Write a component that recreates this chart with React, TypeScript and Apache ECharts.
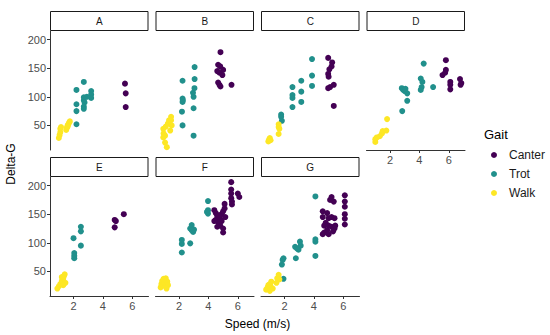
import React, { useEffect, useRef } from "react";
import * as echarts from "echarts";

const panels = ["A", "B", "C", "D", "E", "F", "G"];
const gaits = ["Canter", "Trot", "Walk"];
const gaitColors = ["#440154", "#21908C", "#FDE725"];
const xTicks = [2, 4, 6];
const yTicks = [50, 100, 150, 200];

type P = [number, number][];

// Panel A
const A_canter: P = [[5.5, 123], [5.55, 106], [5.55, 82]];
const A_trot: P = [[2.2, 52], [2.2, 75], [2.2, 87], [2.2, 112], [2.7, 126], [2.7, 99], [2.7, 94], [2.75, 90], [2.7, 83], [2.7, 79], [3.2, 110], [3.2, 104], [3.2, 98], [2.9, 100]];
const A_walk: P = [[1.0, 28], [1.05, 33], [1.1, 38], [1.1, 44], [1.15, 47], [1.5, 42], [1.55, 46], [1.6, 50], [1.65, 52], [1.7, 55], [1.75, 57], [1.6, 48]];
// Panel B
const B_canter: P = [[4.82, 178], [4.66, 156], [4.8, 153], [5.0, 147], [4.75, 142], [4.95, 138], [4.6, 145], [4.66, 125], [4.75, 121], [4.82, 118], [5.57, 121]];
const B_trot: P = [[2.24, 128], [2.24, 97], [2.24, 91], [2.26, 94], [2.2, 74], [2.24, 50], [2.99, 32], [2.99, 80], [2.99, 100], [2.95, 107], [3.05, 115], [3.06, 131], [3.06, 152]];
const B_walk: P = [[0.93, 44], [0.95, 36], [1.05, 32], [1.1, 48], [1.24, 53], [1.32, 59], [1.46, 65], [1.46, 59], [1.5, 50], [1.4, 41], [1.05, 20], [1.17, 12], [0.93, 29]];
// Panel C
const C_canter: P = [[4.97, 168], [5.24, 160], [5.2, 153], [5.05, 148], [4.97, 140], [5.0, 135], [5.35, 121], [5.1, 117], [4.97, 115], [5.35, 84]];
const C_trot: P = [[1.77, 69], [1.77, 65], [1.82, 58], [2.54, 117], [2.54, 103], [2.54, 98], [2.54, 82], [3.14, 128], [3.14, 109], [3.14, 91], [3.87, 166], [3.87, 137], [3.87, 119]];
const C_walk: P = [[0.9, 22], [0.95, 25], [1.0, 28], [1.05, 24], [1.6, 52], [1.6, 47], [1.65, 44], [1.6, 35]];
// Panel D
const D_canter: P = [[5.8, 164], [5.8, 147], [5.57, 138], [5.75, 142], [6.1, 126], [6.1, 121], [6.1, 113], [6.76, 131], [6.85, 124], [6.8, 121]];
const D_trot: P = [[2.83, 75], [3.17, 93], [2.8, 115], [2.9, 112], [3.0, 110], [3.17, 106], [3.05, 114], [4.29, 158], [4.09, 132], [4.2, 126], [4.15, 117], [4.09, 112], [4.93, 117]];
const D_walk: P = [[1.0, 21], [1.0, 26], [1.1, 29], [1.3, 31], [1.45, 36], [1.5, 40], [1.75, 41], [1.8, 61]];
// Panel E
const E_canter: P = [[4.8, 140], [4.88, 138], [4.8, 127], [5.42, 150]];
const E_trot: P = [[2.0, 108], [2.05, 82], [2.05, 77], [2.05, 73], [2.5, 128], [2.5, 120], [2.5, 95]];
const E_walk: P = [[0.9, 20], [1.0, 24], [1.1, 28], [1.2, 33], [1.3, 37], [1.35, 42], [1.4, 45], [1.45, 30], [1.3, 26], [1.2, 40]];
// Panel F
const F_canter: P = [[5.55, 206], [5.55, 193], [5.55, 186], [5.55, 178], [5.6, 172], [5.6, 167], [6.0, 186], [6.1, 180], [5.1, 168], [4.4, 157], [4.5, 152], [4.6, 147], [4.5, 140], [4.7, 135], [4.8, 142], [4.9, 150], [5.0, 155], [5.1, 160], [4.8, 130], [4.6, 128], [5.0, 125], [5.0, 118], [4.9, 138], [5.15, 145], [4.7, 148], [4.4, 138]];
const F_trot: P = [[2.19, 83], [2.19, 98], [2.19, 105], [2.76, 99], [2.76, 125], [2.86, 131], [2.96, 119], [3.02, 123], [2.86, 122], [3.97, 173], [3.97, 157], [3.97, 151], [3.9, 154]];
const F_walk: P = [[0.75, 22], [0.8, 28], [0.85, 33], [0.9, 25], [1.0, 30], [1.05, 36], [1.1, 38], [1.2, 32], [1.25, 26], [1.15, 20], [0.95, 37]];
// Panel G
const G_canter: P = [[6.1, 183], [6.1, 172], [6.1, 163], [6.1, 150], [6.1, 142], [6.1, 132], [5.2, 180], [5.35, 172], [5.1, 175], [4.6, 155], [4.6, 145], [4.9, 152], [5.0, 143], [5.2, 145], [5.4, 143], [4.8, 135], [4.7, 130], [5.0, 130], [5.2, 128], [5.4, 125], [4.9, 122], [4.7, 118], [4.6, 115], [5.0, 115], [5.3, 120], [5.45, 130]];
const G_trot: P = [[1.93, 37], [1.82, 62], [1.87, 70], [1.93, 73], [2.77, 73], [2.72, 93], [2.85, 90], [2.95, 88], [3.05, 102], [3.1, 95], [4.1, 181], [4.1, 106], [4.1, 102], [4.1, 77]];
const G_walk: P = [[0.75, 18], [0.85, 22], [0.9, 26], [1.0, 28], [1.05, 24], [1.1, 32], [1.2, 20], [1.45, 30], [1.5, 38], [1.6, 44], [1.65, 36], [1.0, 16]];

const panelData: P[][] = [
  [A_canter, A_trot, A_walk],
  [B_canter, B_trot, B_walk],
  [C_canter, C_trot, C_walk],
  [D_canter, D_trot, D_walk],
  [E_canter, E_trot, E_walk],
  [F_canter, F_trot, F_walk],
  [G_canter, G_trot, G_walk],
];

const FONT = "Liberation Sans, Arial, sans-serif";

export default function App() {
  const ref = useRef<HTMLDivElement>(null);
  useEffect(() => {
    if (!ref.current) return;
    const chart = echarts.init(ref.current, undefined, { renderer: "svg" });
    const colLefts = [50, 155.5, 261, 366.5];
    const rowTops = [31, 177];
    const W = 98.5;
    const H = 119;
    const grids: any[] = [];
    const xAxes: any[] = [];
    const yAxes: any[] = [];
    const series: any[] = [];
    const graphics: any[] = [];
    panels.forEach((name, i) => {
      const row = i < 4 ? 0 : 1;
      const col = i < 4 ? i : i - 4;
      const left = colLefts[col];
      const top = rowTops[row];
      grids.push({ left, top, width: W, height: H, containLabel: false });
      const showX = i >= 3;
      const showY = col === 0;
      xAxes.push({
        gridIndex: i,
        type: "value",
        min: 0.4,
        max: 7.1,
        splitLine: { show: false },
        axisLine: { show: showX, onZero: false, lineStyle: { color: "#333", width: 1 } },
        axisTick: { show: showX, length: 3, customValues: xTicks, lineStyle: { color: "#333" } },
        axisLabel: { show: showX, customValues: xTicks, color: "#4d4d4d", fontSize: 11, margin: 4, fontFamily: FONT },
      });
      yAxes.push({
        gridIndex: i,
        type: "value",
        min: 7,
        max: 215,
        splitLine: { show: false },
        axisLine: { show: showY, onZero: false, lineStyle: { color: "#333", width: 1 } },
        axisTick: { show: showY, length: 3, customValues: yTicks, lineStyle: { color: "#333" } },
        axisLabel: { show: showY, customValues: yTicks, color: "#4d4d4d", fontSize: 11, margin: 4, fontFamily: FONT },
      });
      panelData[i].forEach((d, g) => {
        series.push({
          type: "scatter",
          name: gaits[g],
          xAxisIndex: i,
          yAxisIndex: i,
          data: d,
          symbol: "circle",
          symbolSize: 6,
          itemStyle: { color: gaitColors[g], opacity: 1 },
          silent: true,
        });
      });
      graphics.push({
        type: "rect",
        shape: { x: left + 0.5, y: top - 20 + 0.5, width: W - 1, height: 19 },
        style: { fill: "#fff", stroke: "#1a1a1a", lineWidth: 1 },
      });
      graphics.push({
        type: "text",
        x: left + W / 2,
        y: top - 10,
        style: { text: name, fill: "#1a1a1a", fontSize: 10, fontFamily: FONT, align: "center", verticalAlign: "middle" },
      });
    });
    // axis titles
    graphics.push({
      type: "text",
      x: 11,
      y: 164,
      rotation: Math.PI / 2,
      style: { text: "Delta-G", fill: "#000", fontSize: 12, fontFamily: FONT, align: "center", verticalAlign: "middle" },
    });
    graphics.push({
      type: "text",
      x: 257.5,
      y: 324,
      style: { text: "Speed (m/s)", fill: "#000", fontSize: 12, fontFamily: FONT, align: "center", verticalAlign: "middle" },
    });
    // legend
    graphics.push({
      type: "text",
      x: 484,
      y: 134,
      style: { text: "Gait", fill: "#000", fontSize: 13, fontFamily: FONT, align: "left", verticalAlign: "middle" },
    });
    gaits.forEach((g, k) => {
      const y = 155 + k * 19;
      graphics.push({ type: "circle", shape: { cx: 494, cy: y, r: 3 }, style: { fill: gaitColors[k] } });
      graphics.push({
        type: "text",
        x: 509,
        y,
        style: { text: g, fill: "#1a1a1a", fontSize: 12, fontFamily: FONT, align: "left", verticalAlign: "middle" },
      });
    });
    chart.setOption({
      animation: false,
      backgroundColor: "#fff",
      grid: grids,
      xAxis: xAxes,
      yAxis: yAxes,
      series,
      graphic: graphics,
    });
    return () => chart.dispose();
  }, []);
  return (
    <div
      ref={ref}
      style={{ position: "fixed", left: 0, top: 0, width: 550, height: 335 }}
    />
  );
}
